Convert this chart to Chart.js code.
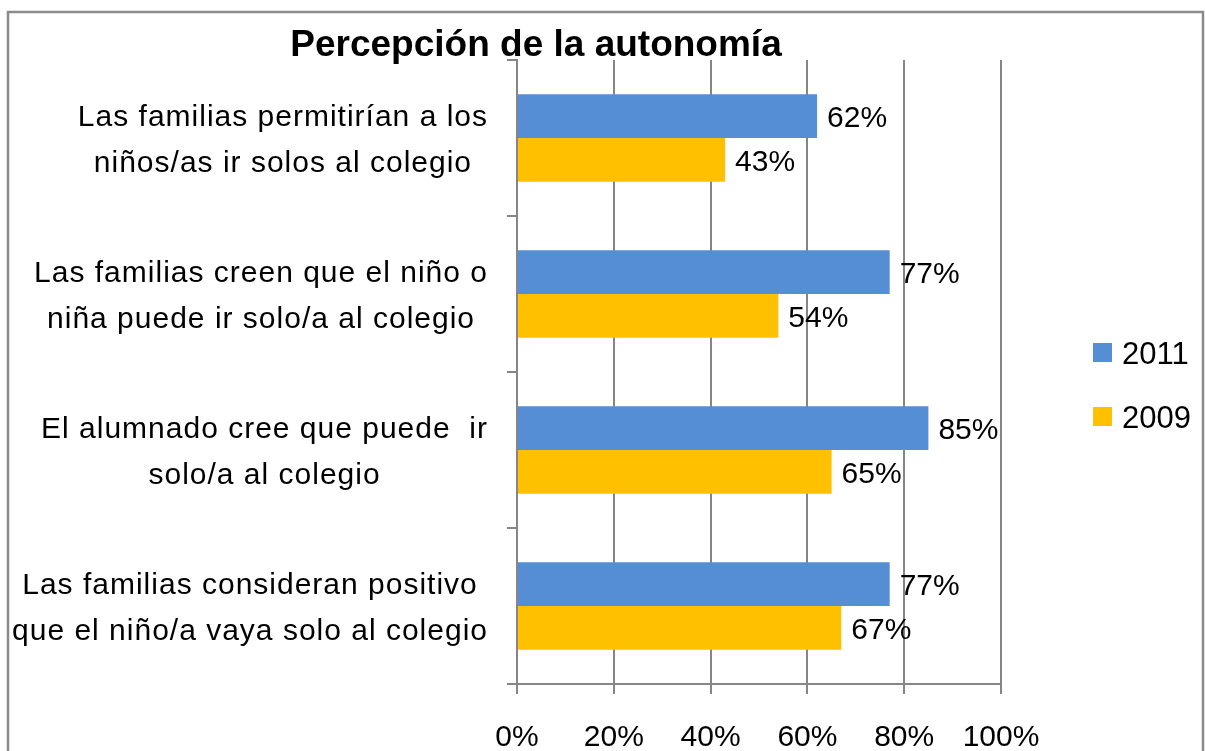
<!DOCTYPE html>
<html>
<head>
<meta charset="utf-8">
<script src="https://cdn.jsdelivr.net/npm/chart.js@4"></script>
<style>
  html, body { margin: 0; padding: 0; background: #fff; }
  #wrap { width: 1205px; height: 751px; position: relative; }
</style>
</head>
<body>
<div id="wrap"><canvas id="c" width="1205" height="751"></canvas></div>
<script>
const titleText = 'Percepción de la autonomía';
const categories = [
  ['Las familias permitirían a los', 'niños/as ir solos al colegio'],
  ['Las familias creen que el niño o', 'niña puede ir solo/a al colegio'],
  ['El alumnado cree que puede  ir', 'solo/a al colegio'],
  ['Las familias consideran positivo', 'que el niño/a vaya solo al colegio']
];
const seriesNames = ['2011', '2009'];
const values2011 = [62, 77, 85, 77];
const values2009 = [43, 54, 65, 67];
const xTicks = [0, 20, 40, 60, 80, 100];
const colors = ['#558ED5', '#FFC000'];

const FONT = '"Liberation Sans", Arial, sans-serif';
const GRID = '#868686';

const framePlugin = {
  id: 'frame',
  beforeDraw(chart) {
    const ctx = chart.ctx;
    ctx.save();
    ctx.strokeStyle = '#8a8a8a';
    ctx.lineWidth = 2.5;
    ctx.strokeRect(8, 12, 1195, 800);
    ctx.restore();
  }
};

const extrasPlugin = {
  id: 'extras',
  afterDraw(chart) {
    const ctx = chart.ctx;
    const ca = chart.chartArea;
    ctx.save();
    // title
    ctx.fillStyle = '#000';
    ctx.font = 'bold 37px ' + FONT;
    ctx.textAlign = 'center';
    ctx.textBaseline = 'middle';
    ctx.fillText(titleText, 536, 46);

    // category labels (each block right-aligned, lines centered)
    const yScale = chart.scales.y;
    ctx.font = '30px ' + FONT;
    ctx.letterSpacing = '1px';
    const rightEdge = ca.left - 29;
    categories.forEach((lines, i) => {
      const yc = yScale.getPixelForValue(i) + 3;
      const widths = lines.map(l => ctx.measureText(l).width);
      const w = Math.max(...widths);
      const cx = rightEdge - w / 2;
      const lh = 46;
      const y0 = yc - (lines.length - 1) * lh / 2;
      lines.forEach((l, j) => {
        ctx.textAlign = 'center';
        ctx.fillText(l, cx, y0 + j * lh);
      });
    });
    ctx.letterSpacing = '0px';

    // data labels
    ctx.font = '30px ' + FONT;
    ctx.textAlign = 'left';
    chart.data.datasets.forEach((ds, di) => {
      const meta = chart.getDatasetMeta(di);
      meta.data.forEach((el, i) => {
        ctx.fillText(ds.data[i] + '%', el.x + 10, el.y + 3);
      });
    });

    // legend
    ctx.font = '31px ' + FONT;
    chart.data.datasets.forEach((ds, di) => {
      const y = 353 + di * 64;
      ctx.fillStyle = ds.backgroundColor;
      ctx.fillRect(1093, y - 10, 19, 19);
      ctx.fillStyle = '#000';
      ctx.textAlign = 'left';
      ctx.fillText(ds.label, 1122, y + 2);
    });
    ctx.restore();
  }
};

new Chart(document.getElementById('c'), {
  type: 'bar',
  data: {
    labels: categories,
    datasets: [
      { label: seriesNames[0], data: values2011, backgroundColor: colors[0], borderWidth: 0 },
      { label: seriesNames[1], data: values2009, backgroundColor: colors[1], borderWidth: 0 }
    ]
  },
  options: {
    indexAxis: 'y',
    responsive: false,
    animation: false,
    devicePixelRatio: 1,
    categoryPercentage: 0.56,
    barPercentage: 1.0,
    layout: { padding: { top: 60, right: 204, bottom: 0, left: 0 } },
    plugins: {
      legend: { display: false },
      title: { display: false },
      tooltip: { enabled: false }
    },
    scales: {
      x: {
        min: 0, max: 100,
        afterBuildTicks(scale) { scale.ticks = xTicks.map(v => ({ value: v })); },
        afterFit(scale) { scale.height = 67; },
        ticks: {
          callback: v => v + '%',
          color: '#000',
          font: { family: FONT, size: 30 },
          padding: 26
        },
        grid: { color: GRID, lineWidth: 2, tickLength: 10, drawTicks: true },
        border: { color: GRID, width: 2 }
      },
      y: {
        afterFit(scale) { scale.width = 517; },
        ticks: { display: false },
        grid: { drawOnChartArea: false, drawTicks: true, tickLength: 10, offset: true, color: GRID, lineWidth: 2 },
        border: { color: GRID, width: 2 }
      }
    }
  },
  plugins: [framePlugin, extrasPlugin]
});
</script>
</body>
</html>
